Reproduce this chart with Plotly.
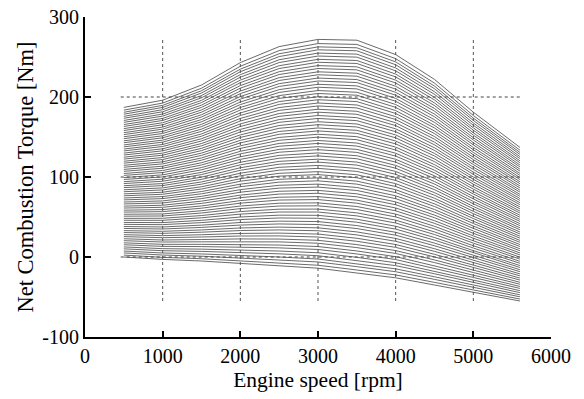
import plotly.graph_objects as go

# Engine speed breakpoints [rpm]
rpm = [500, 1000, 1500, 2000, 2500, 3000, 3500, 4000, 4500, 5000, 5600]
# Envelope curves [Nm]
torque_full_load = [187, 196, 215, 243, 263, 272, 271, 253, 222, 181, 137]
torque_min_load = [0, -3, -5, -8, -11, -14, -20, -26, -35, -44, -55]
# Torque of each load curve at 500 rpm [Nm] (one entry per plotted line)
start_torque_500 = [0, 2.4, 5.1, 7.5, 10.2, 12.6, 15.3, 17.7, 20.4, 22.8, 25.5, 27.9,
                    30.6, 33.0, 35.7, 38.1, 40.8, 43.2, 45.9, 48.3, 51.0, 53.4, 56.1,
                    58.5, 61.2, 63.6, 66.3, 68.7, 71.4, 73.8, 76.5, 78.9, 81.6, 84.0,
                    86.7, 89.1, 91.8, 94.2, 96.9, 99.3, 102.0, 104.4, 107.1, 109.5,
                    112.2, 114.6, 117.3, 119.7, 122.4, 124.8, 127.5, 129.9, 132.6,
                    135.0, 137.7, 140.1, 142.8, 145.2, 147.9, 150.3, 153.0, 155.4,
                    158.1, 160.5, 163.2, 165.6, 168.3, 170.7, 173.4, 175.8, 178.5,
                    180.9, 183.6, 187.0]
grid_x = [1000, 2000, 3000, 4000, 5000]
grid_y = [0, 100, 200]
x_ticks = [0, 1000, 2000, 3000, 4000, 5000, 6000]
y_ticks = [-100, 0, 100, 200, 300]

FONT = "Liberation Serif"

fig = go.Figure()
span0 = torque_full_load[0] - torque_min_load[0]
for t0 in start_torque_500:
    frac = (t0 - torque_min_load[0]) / span0
    y = [lo + frac * (hi - lo) for lo, hi in zip(torque_min_load, torque_full_load)]
    fig.add_trace(go.Scatter(x=rpm, y=y, mode="lines",
                             line=dict(color="#444444", width=0.8),
                             showlegend=False, hoverinfo="skip"))

ymin = min(torque_min_load)
ymax = max(torque_full_load)
for gx in grid_x:
    fig.add_shape(type="line", x0=gx, x1=gx, y0=ymin, y1=ymax, xref="x", yref="y",
                  line=dict(color="#555555", width=1, dash="3px,3px"), layer="above")
for gy in grid_y:
    fig.add_shape(type="line", x0=rpm[0] - 40, x1=rpm[-1], y0=gy, y1=gy, xref="x", yref="y",
                  line=dict(color="#444444", width=1.2, dash="dot"), layer="above")

fig.update_layout(
    width=584, height=399,
    margin=dict(l=85, r=33, t=17, b=62, autoexpand=False),
    paper_bgcolor="white", plot_bgcolor="white",
    font=dict(family=FONT, size=20, color="black"),
    xaxis=dict(range=[0, 6000], tickvals=x_ticks, ticktext=[str(v) for v in x_ticks],
               showgrid=False, zeroline=False,
               showline=True, linecolor="black", linewidth=2, ticks="inside",
               ticklen=6, tickwidth=1.5, tickcolor="black", automargin=False,
               title=dict(text="Engine speed [rpm]", standoff=6,
                          font=dict(family=FONT, size=21.5, color="black")),
               tickfont=dict(family=FONT, size=20, color="black")),
    yaxis=dict(range=[-100, 300], tickvals=y_ticks, ticktext=[str(v) for v in y_ticks],
               showgrid=False, zeroline=False,
               showline=True, linecolor="black", linewidth=2, ticks="inside",
               ticklen=6, tickwidth=1.5, tickcolor="black", automargin=False,
               title=dict(text="Net Combustion Torque [Nm]", standoff=2,
                          font=dict(family=FONT, size=22.5, color="black")),
               tickfont=dict(family=FONT, size=20, color="black")),
)

fig.write_html("out.html", config={"displayModeBar": False},
               post_script="document.body.style.margin='0px';document.body.style.padding='0px';")
